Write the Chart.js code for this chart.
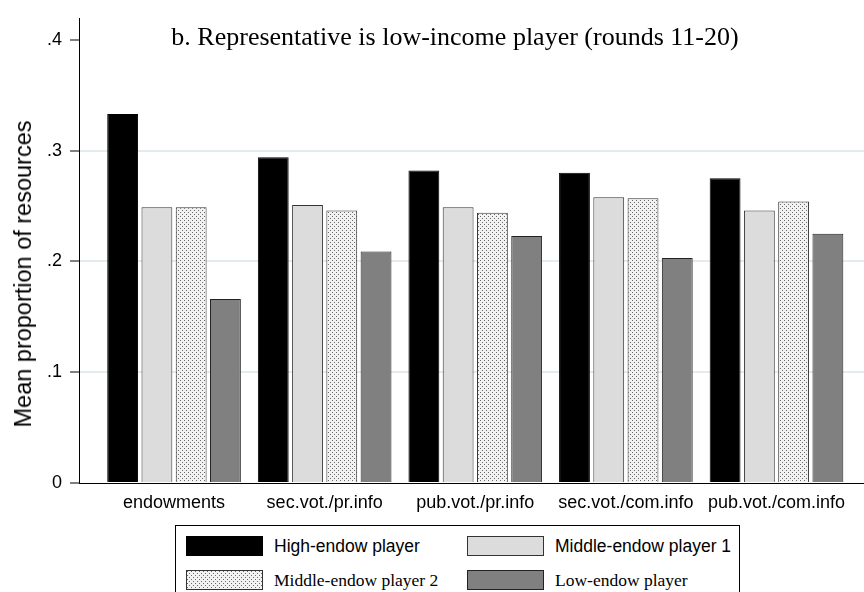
<!DOCTYPE html>
<html>
<head>
<meta charset="utf-8">
<script src="https://cdn.jsdelivr.net/npm/chart.js@4.4.1/dist/chart.umd.min.js"></script>
<style>
  html, body { margin: 0; padding: 0; background: #fff; overflow: hidden; }
  #wrap { position: relative; width: 864px; height: 592px; overflow: hidden; }
  #chart { position: absolute; left: 0; top: 0; }
  #title {
    position: absolute; left: 455px; top: 24px; transform: translateX(-50%);
    font: 26px/26px "Liberation Serif", "Times New Roman", serif; color: #000; white-space: nowrap;
  }
  #ytitle {
    position: absolute; left: 22.5px; top: 273.5px;
    transform: translate(-50%, -50%) rotate(-90deg);
    font: 23.5px/24px "Liberation Sans", Arial, sans-serif; color: #000; white-space: nowrap;
  }
  #legend {
    position: absolute; left: 175px; top: 525px; width: 565px; height: 80px;
    border: 1px solid #000; box-sizing: border-box; background: #fff;
  }
  .item { position: absolute; height: 20px; }
  .sw { position: absolute; left: 0; top: 0; width: 77px; height: 20px; box-sizing: border-box; border: 1px solid #333; }
  .lbl { position: absolute; left: 88px; top: 0; line-height: 20px; font-size: 17.5px; color: #000; white-space: nowrap; }
  .sans { font-family: "Liberation Sans", Arial, sans-serif; }
  .serif { font-family: "Liberation Serif", "Times New Roman", serif; }
</style>
</head>
<body>
<div id="wrap">
  <canvas id="chart" width="864" height="592"></canvas>
  <div id="title">b. Representative is low-income player (rounds 11-20)</div>
  <div id="ytitle">Mean proportion of resources</div>
  <div id="legend"></div>
</div>
<script>
// kategoriyalar va qiymatlar
const categories = ['endowments', 'sec.vot./pr.info', 'pub.vot./pr.info', 'sec.vot./com.info', 'pub.vot./com.info'];
const seriesNames = ['High-endow player', 'Middle-endow player 1', 'Middle-endow player 2', 'Low-endow player'];
const high = [0.333, 0.294, 0.282, 0.280, 0.275];
const middle1 = [0.249, 0.251, 0.249, 0.258, 0.246];
const middle2 = [0.249, 0.246, 0.244, 0.257, 0.254];
const low = [0.166, 0.209, 0.223, 0.203, 0.225];
const yTicks = [0, 0.1, 0.2, 0.3, 0.4];
const yTickLabels = ['0', '.1', '.2', '.3', '.4'];

// nuqtali pattern (Middle-endow player 2)
const tile = document.createElement('canvas');
tile.width = 4; tile.height = 4;
const tctx = tile.getContext('2d');
tctx.fillStyle = '#f2f2f2';
tctx.fillRect(0, 0, 4, 4);
tctx.fillStyle = '#6a6a6a';
tctx.fillRect(0, 0, 1, 1);
tctx.fillRect(2, 2, 1, 1);

const ctx = document.getElementById('chart').getContext('2d');
const dotted = ctx.createPattern(tile, 'repeat');

const fills = ['#000000', '#dcdcdc', dotted, '#808080'];
const borders = ['#000000', '#333333', '#333333', '#222222'];
const values = [high, middle1, middle2, low];

const sans = '"Liberation Sans", Arial, sans-serif';

new Chart(ctx, {
  type: 'bar',
  data: {
    datasets: values.map((vals, k) => ({
      label: seriesNames[k],
      data: vals.map((v, i) => ({ x: i, y: v })),
      backgroundColor: fills[k],
      borderColor: borders[k],
      borderWidth: 1,
      categoryPercentage: 0.91,
      barPercentage: 0.9
    }))
  },
  options: {
    responsive: false,
    animation: false,
    layout: { padding: { top: 14, bottom: 69, left: 0, right: 0 } },
    plugins: { legend: { display: false }, tooltip: { enabled: false } },
    scales: {
      x: {
        type: 'linear',
        offset: false,
        min: -0.631,
        max: 4.581,
        afterFit: (s) => { s.height = 40; },
        afterBuildTicks: (s) => { s.ticks = categories.map((c, i) => ({ value: i })); },
        grid: { display: false, drawTicks: false },
        border: { display: true, color: '#000', width: 1 },
        ticks: {
          color: '#000',
          padding: 9,
          maxRotation: 0,
          autoSkip: false,
          font: { family: sans, size: 18 },
          callback: (v) => categories[v]
        }
      },
      y: {
        min: 0,
        max: 0.419,
        afterFit: (s) => { s.width = 79; },
        afterBuildTicks: (s) => { s.ticks = yTicks.map(v => ({ value: v })); },
        grid: {
          color: (c) => (c.tick && (c.tick.value === 0 || c.tick.value === 0.4)) ? 'rgba(0,0,0,0)' : '#e3ebee',
          lineWidth: 2,
          tickColor: '#000',
          tickWidth: 1,
          tickLength: 9
        },
        border: { display: true, color: '#000', width: 1 },
        ticks: {
          color: '#000',
          padding: 8,
          font: { family: sans, size: 18 },
          callback: (v) => yTickLabels[yTicks.indexOf(v)]
        }
      }
    }
  }
});

// legend (HTML)
const legend = document.getElementById('legend');
const pos = [[10, 10], [291, 10], [10, 44], [291, 44]];
const fonts = ['sans', 'sans', 'serif', 'serif'];
const swatchBg = ['#000000', '#dcdcdc', 'url(' + tile.toDataURL() + ')', '#808080'];
seriesNames.forEach((name, k) => {
  const item = document.createElement('div');
  item.className = 'item';
  item.style.left = pos[k][0] + 'px';
  item.style.top = pos[k][1] + 'px';
  const sw = document.createElement('div');
  sw.className = 'sw';
  sw.style.background = swatchBg[k];
  sw.style.borderColor = borders[k];
  const lbl = document.createElement('div');
  lbl.className = 'lbl ' + fonts[k];
  lbl.textContent = name;
  item.appendChild(sw);
  item.appendChild(lbl);
  legend.appendChild(item);
});
</script>
</body>
</html>
